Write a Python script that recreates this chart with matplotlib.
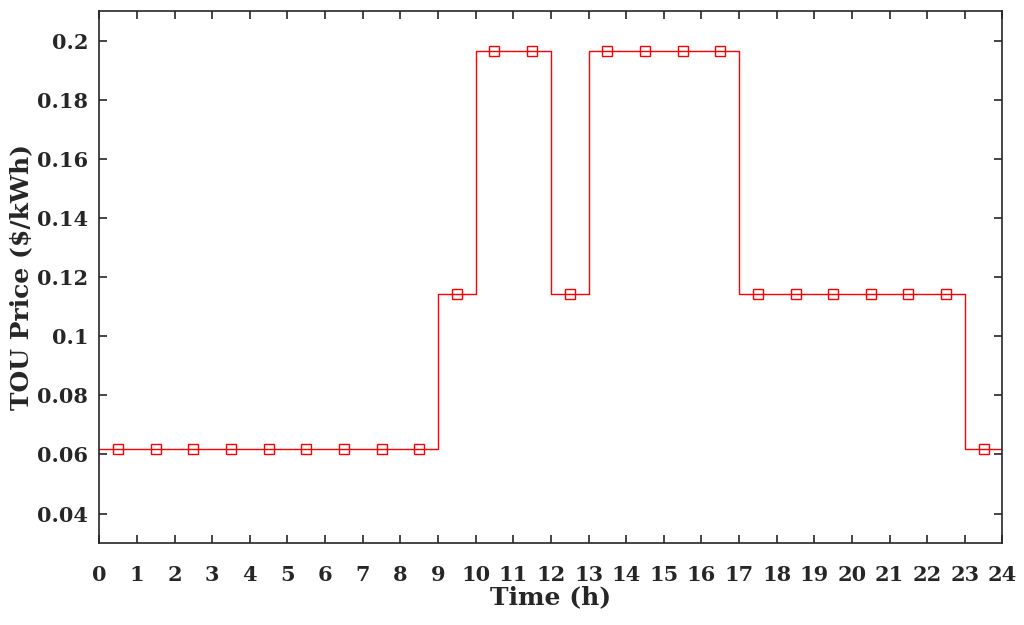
import numpy as np
import matplotlib.pyplot as plt

# hourly TOU price ($/kWh), hour h covers [h, h+1)
hours = np.arange(25)
price = [0.0617] * 9 + [0.1143] + [0.1966] * 2 + [0.1143] + [0.1966] * 4 + [0.1143] * 6 + [0.0617]
mid = hours[:-1] + 0.5

plt.rcParams['font.family'] = ['DejaVu Serif']
plt.rcParams['font.weight'] = 'bold'

fig, ax = plt.subplots(figsize=(10.24, 6.25), dpi=100)
fig.subplots_adjust(left=0.097, right=0.979, top=0.982, bottom=0.131)

ax.step(hours, price + [price[-1]], where='post', color='red', linewidth=1.0)
ax.plot(mid, price, linestyle='none', marker='s', markersize=7,
        markerfacecolor='none', markeredgecolor='red', markeredgewidth=1.0)

ax.set_xlim(0, 24)
ax.set_ylim(0.03, 0.21)
ax.set_xticks(np.arange(0, 25, 1))
ax.set_yticks([0.04, 0.06, 0.08, 0.1, 0.12, 0.14, 0.16, 0.18, 0.2])
ax.set_yticklabels(['0.04', '0.06', '0.08', '0.1', '0.12', '0.14', '0.16', '0.18', '0.2'])

txt = '#262626'
ax.tick_params(direction='in', top=True, right=True, length=6, width=1.2,
               labelsize=15, colors=txt)
ax.tick_params(axis='x', pad=16)
ax.tick_params(axis='y', pad=8)
for s in ax.spines.values():
    s.set_color(txt)
    s.set_linewidth(1.2)

ax.set_xlabel('Time (h)', fontsize=18, fontweight='bold', color=txt, labelpad=0)
ax.set_ylabel('TOU Price ($/kWh)', fontsize=18, fontweight='bold', color=txt, labelpad=3)

plt.savefig('out.png', dpi=100)
